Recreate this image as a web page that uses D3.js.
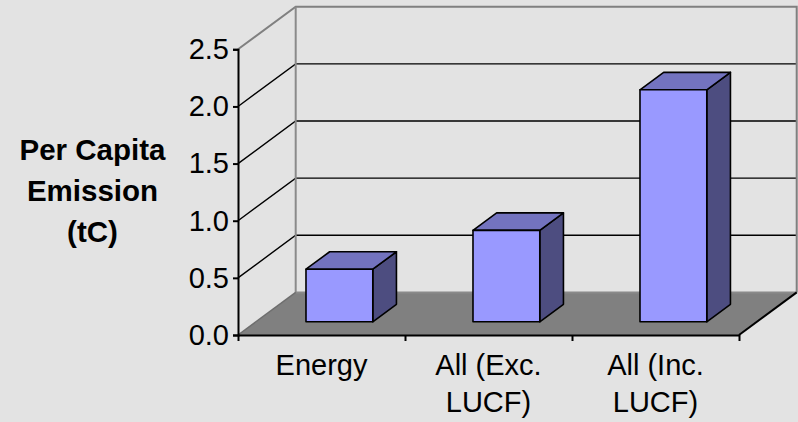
<!DOCTYPE html>
<html>
<head>
<meta charset="utf-8">
<script src="https://cdn.jsdelivr.net/npm/d3@7"></script>
<style>
  html, body { margin: 0; padding: 0; background: #e3e3e3; }
  svg { display: block; }
  text { font-family: "Liberation Sans", Arial, sans-serif; fill: #000; }
</style>
</head>
<body>
<svg id="chart" width="798" height="422"></svg>
<script>
// Per-capita emission by scope (tonnes of carbon)
const categories = ["Energy", "All (Exc. LUCF)", "All (Inc. LUCF)"];
const labelLines = [["Energy"], ["All (Exc.", "LUCF)"], ["All (Inc.", "LUCF)"]];
const values = [0.46, 0.80, 2.03];
const yTicks = [0, 0.5, 1.0, 1.5, 2.0, 2.5];
const yTitle = ["Per Capita", "Emission", "(tC)"];

const svg = d3.select("#chart");

// Plot frame: front plane, plus an oblique depth offset for the 3D walls
const x0 = 238, x1 = 739, yBase = 335, yTop = 49.3;
const DX = 57.7, DY = 42.6;           // full depth offset
const barF0 = 0.31, barF1 = 0.72;     // bar depth extent (fraction of full depth)

const y = d3.scaleLinear().domain([0, 2.5]).range([yBase, yTop]);
const x = d3.scaleBand().domain(categories).range([x0, x1])
  .paddingInner(0.6).paddingOuter(0.3);
const xEdge = d3.scaleLinear().domain([0, categories.length]).range([x0, x1]);

// project a front-plane point back by depth fraction f
const P = (px, py, f) => [px + f * DX, py - f * DY];
const poly = pts => "M" + pts.map(p => p.join(",")).join("L") + "Z";

const g = svg.append("g");

// Floor
g.append("path")
  .attr("d", poly([P(x0, y(0), 0), P(x1, y(0), 0), P(x1, y(0), 1), P(x0, y(0), 1)]))
  .attr("fill", "#808080");

// Gridlines on side wall and back wall
const inner = yTicks.filter(v => v > 0 && v < 2.5);
inner.forEach(v => {
  const a = P(x0, y(v), 0), b = P(x0, y(v), 1), c = P(x1, y(v), 1);
  g.append("path").attr("d", `M${a}L${b}L${c}`)
    .attr("fill", "none").attr("stroke", "#000").attr("stroke-width", 1.4);
});

// Wall borders (gray)
{
  const tf = P(x0, y(2.5), 0), tb = P(x0, y(2.5), 1), tr = P(x1, y(2.5), 1);
  const bl = P(x0, y(0), 1), br = P(x1, y(0), 1);
  g.append("path").attr("d", `M${tf}L${tb}L${tr}L${br}`)
    .attr("fill", "none").attr("stroke", "#808080").attr("stroke-width", 2);
  g.append("path").attr("d", `M${tb}L${bl}L${br}`)
    .attr("fill", "none").attr("stroke", "#8a8a8a").attr("stroke-width", 2);
  g.append("path").attr("d", `M${P(x0, y(0), 0)}L${bl}`)
    .attr("fill", "none").attr("stroke", "#6e6e6e").attr("stroke-width", 1.5);
  // right floor edge
  g.append("path").attr("d", `M${P(x1, y(0), 0)}L${br}`)
    .attr("fill", "none").attr("stroke", "#000").attr("stroke-width", 2);
}

// Bars (front, top, right side)
const bars = g.append("g");
categories.forEach((c, i) => {
  const l = x(c), r = x(c) + x.bandwidth();
  const yb = y(0), yt = y(values[i]);
  const front = [P(l, yt, barF0), P(r, yt, barF0), P(r, yb, barF0), P(l, yb, barF0)];
  const top = [P(l, yt, barF0), P(l, yt, barF1), P(r, yt, barF1), P(r, yt, barF0)];
  const side = [P(r, yt, barF0), P(r, yt, barF1), P(r, yb, barF1), P(r, yb, barF0)];
  const sty = (sel, col) => sel.attr("fill", col).attr("stroke", "#000")
    .attr("stroke-width", 1.6).attr("stroke-linejoin", "round");
  sty(bars.append("path").attr("d", poly(side)), "#4d4d80");
  sty(bars.append("path").attr("d", poly(top)), "#7373bf");
  sty(bars.append("path").attr("d", poly(front)), "#9999ff");
});

// Value axis
const yAxis = g.append("g").attr("transform", `translate(${x0},0)`)
  .call(d3.axisLeft(y).tickValues(yTicks).tickFormat(d3.format(".1f"))
    .tickSize(5).tickPadding(4));
yAxis.select(".domain").attr("stroke", "#000").attr("stroke-width", 2);
yAxis.selectAll(".tick line").attr("stroke", "#000").attr("stroke-width", 2);
yAxis.selectAll(".tick text").style("font-size", "29px")
  .style("font-family", '"Liberation Sans", Arial, sans-serif').attr("fill", "#000");

// Category axis: front floor edge with boundary ticks
const xAxis = g.append("g").attr("transform", `translate(0,${yBase})`)
  .call(d3.axisBottom(xEdge).tickValues(d3.range(categories.length + 1))
    .tickFormat("").tickSize(6).tickSizeOuter(0));
xAxis.select(".domain").attr("stroke", "#000").attr("stroke-width", 2.2);
xAxis.selectAll(".tick line").attr("stroke", "#000").attr("stroke-width", 2);

// Category labels
categories.forEach((c, i) => {
  const cx = (xEdge(i) + xEdge(i + 1)) / 2;
  const t = g.append("text").attr("text-anchor", "middle").style("font-size", "29px");
  labelLines[i].forEach((ln, k) => {
    t.append("tspan").attr("x", cx).attr("y", 375 + k * 36.7).text(ln);
  });
});

// Value axis title
const tt = g.append("text").attr("text-anchor", "middle")
  .style("font-size", "29.5px").style("font-weight", "bold");
yTitle.forEach((ln, k) => {
  tt.append("tspan").attr("x", 92.5).attr("y", 159.5 + k * 41).text(ln);
});
</script>
</body>
</html>
